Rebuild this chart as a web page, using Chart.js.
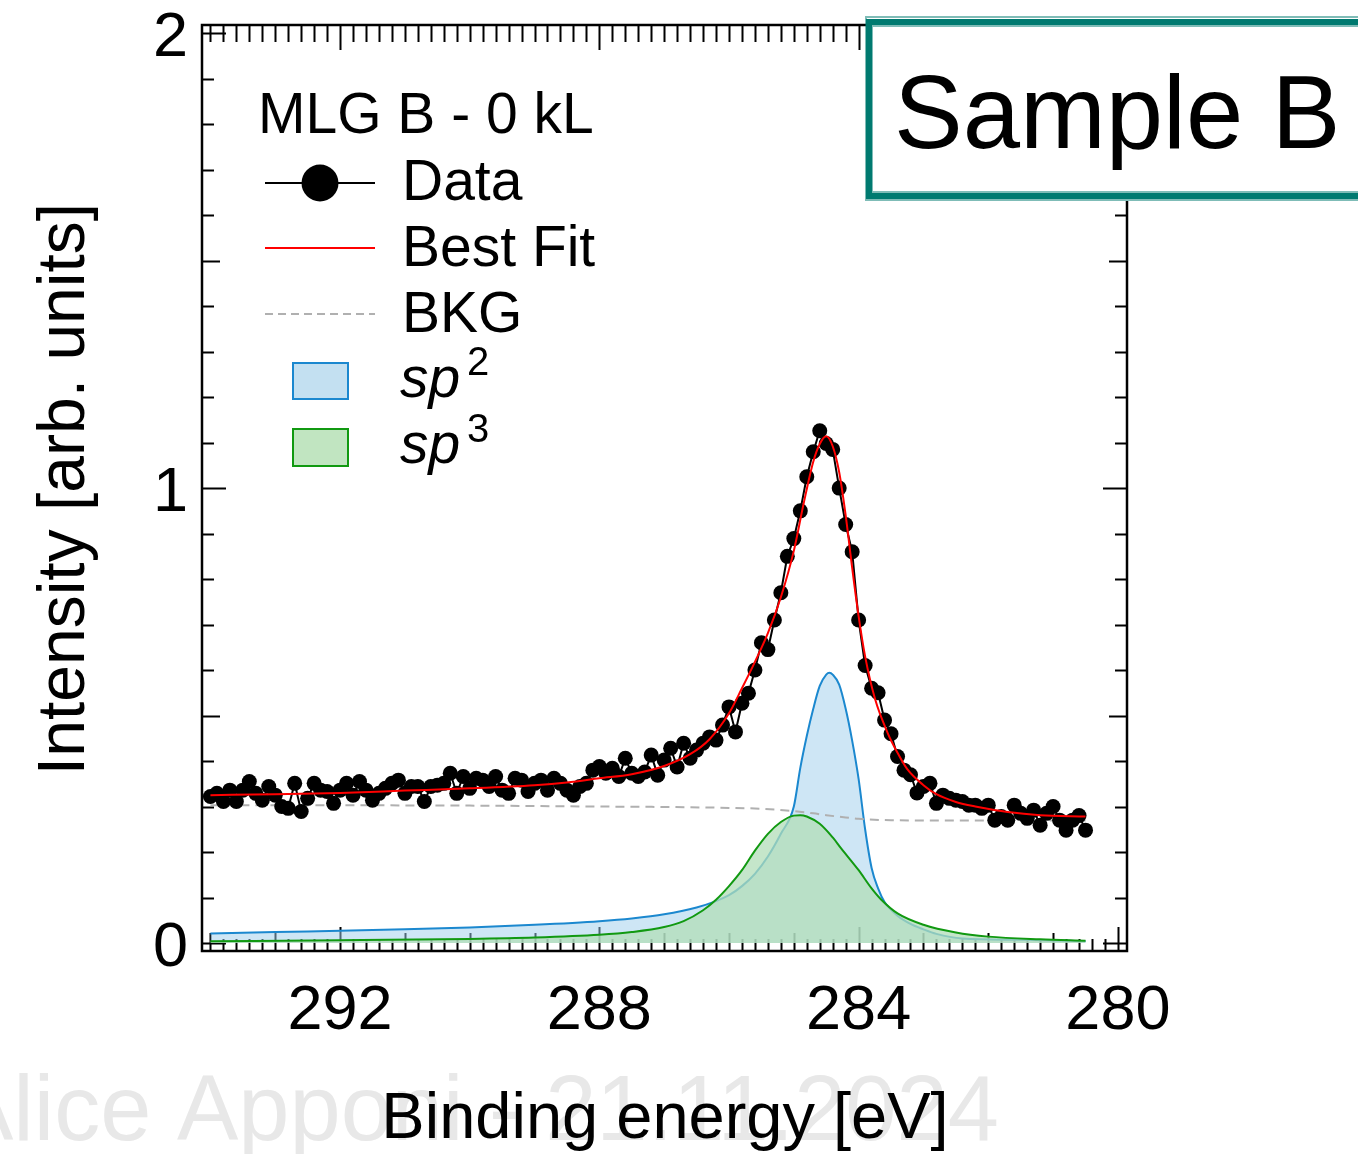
<!DOCTYPE html>
<html>
<head>
<meta charset="utf-8">
<script src="https://cdn.jsdelivr.net/npm/chart.js@4.4.0/dist/chart.umd.min.js"></script>
<style>
  html, body { margin: 0; padding: 0; background: #fff; }
  #wrap { width: 1358px; height: 1154px; }
</style>
</head>
<body>
<div id="wrap"><canvas id="xps" width="1358" height="1154"></canvas></div>
<script>
// C 1s spectrum, MLG B - 0 kL

// measured points (binding energy in eV)
const energy = [
  294.0,293.9,293.8,293.7,293.6,293.5,293.4,293.3,293.2,293.1,
  293.0,292.9,292.8,292.7,292.6,292.5,292.4,292.3,292.2,292.1,
  292.0,291.9,291.8,291.7,291.6,291.5,291.4,291.3,291.2,291.1,
  291.0,290.9,290.8,290.7,290.6,290.5,290.4,290.3,290.2,290.1,
  290.0,289.9,289.8,289.7,289.6,289.5,289.4,289.3,289.2,289.1,
  289.0,288.9,288.8,288.7,288.6,288.5,288.4,288.3,288.2,288.1,
  288.0,287.9,287.8,287.7,287.6,287.5,287.4,287.3,287.2,287.1,
  287.0,286.9,286.8,286.7,286.6,286.5,286.4,286.3,286.2,286.1,
  286.0,285.9,285.8,285.7,285.6,285.5,285.4,285.3,285.2,285.1,
  285.0,284.9,284.8,284.7,284.6,284.5,284.4,284.3,284.2,284.1,
  284.0,283.9,283.8,283.7,283.6,283.5,283.4,283.3,283.2,283.1,
  283.0,282.9,282.8,282.7,282.6,282.5,282.4,282.3,282.2,282.1,
  282.0,281.9,281.8,281.7,281.6,281.5,281.4,281.3,281.2,281.1,
  281.0,280.9,280.8,280.7,280.6,280.5
];
const intensity = [
  0.322,0.329,0.311,0.336,0.311,0.336,0.355,0.329,0.314,0.344,
  0.325,0.300,0.296,0.351,0.289,0.318,0.351,0.336,0.333,0.307,
  0.336,0.351,0.325,0.355,0.336,0.314,0.329,0.340,0.351,0.358,
  0.329,0.344,0.344,0.311,0.344,0.347,0.351,0.373,0.329,0.366,
  0.340,0.362,0.358,0.344,0.366,0.336,0.329,0.362,0.358,0.333,
  0.351,0.358,0.336,0.362,0.351,0.336,0.325,0.344,0.351,0.380,
  0.388,0.373,0.384,0.366,0.406,0.373,0.366,0.376,0.413,0.369,
  0.402,0.428,0.387,0.439,0.406,0.424,0.439,0.453,0.446,0.479,
  0.519,0.464,0.527,0.549,0.600,0.660,0.645,0.710,0.770,0.850,
  0.889,0.950,1.025,1.080,1.126,1.098,1.085,1.000,0.920,0.860,
  0.710,0.610,0.560,0.550,0.490,0.460,0.410,0.380,0.370,0.330,
  0.344,0.351,0.307,0.325,0.318,0.314,0.311,0.303,0.303,0.296,
  0.303,0.270,0.278,0.270,0.303,0.285,0.274,0.292,0.259,0.285,
  0.300,0.270,0.248,0.270,0.280,0.248
];

// best fit envelope
const fitE = [294.0,293.0,292.0,291.0,290.0,289.0,288.5,288.0,287.5,287.0,286.6,286.3,286.0,285.8,285.6,285.4,285.2,285.0,284.85,284.7,284.6,284.5,284.4,284.3,284.2,284.1,284.0,283.9,283.75,283.55,283.4,283.25,283.0,282.8,282.5,282.2,281.7,281.2,280.5];
const fitI = [0.325,0.327,0.330,0.335,0.340,0.347,0.353,0.362,0.371,0.389,0.415,0.448,0.505,0.560,0.618,0.681,0.760,0.862,0.965,1.058,1.097,1.114,1.092,1.035,0.940,0.825,0.718,0.630,0.538,0.461,0.418,0.382,0.347,0.327,0.310,0.300,0.288,0.281,0.278];

// Shirley background
const bkgE = [294.0,290.0,288.0,287.0,286.0,285.5,285.0,284.7,284.5,284.2,284.0,283.5,282.0,280.5];
const bkgI = [0.303,0.302,0.300,0.299,0.297,0.295,0.290,0.285,0.281,0.276,0.273,0.270,0.269,0.269];

// sp2 component
const sp2E = [294.0,293.0,292.0,291.0,290.0,289.0,288.0,287.5,287.0,286.5,286.2,286.0,285.8,285.6,285.4,285.2,285.0,284.9,284.8,284.7,284.6,284.5,284.45,284.4,284.3,284.2,284.1,284.0,283.9,283.8,283.7,283.6,283.4,283.2,283.0,282.8,282.4,281.5,280.5];
const sp2I = [0.021,0.024,0.027,0.030,0.034,0.040,0.048,0.054,0.063,0.078,0.092,0.105,0.125,0.152,0.190,0.240,0.300,0.385,0.455,0.515,0.565,0.590,0.594,0.590,0.568,0.515,0.445,0.360,0.250,0.165,0.120,0.090,0.060,0.042,0.030,0.020,0.010,0.007,0.004];

// sp3 component
const sp3E = [294.0,292.0,290.0,289.0,288.0,287.5,287.0,286.7,286.4,286.2,286.0,285.8,285.6,285.4,285.2,285.0,284.9,284.8,284.6,284.4,284.27,284.0,283.8,283.65,283.4,283.0,282.5,282.0,281.2,280.5];
const sp3I = [0.004,0.006,0.009,0.012,0.018,0.024,0.035,0.048,0.072,0.095,0.125,0.160,0.203,0.240,0.266,0.280,0.281,0.278,0.262,0.232,0.208,0.160,0.120,0.095,0.065,0.040,0.023,0.014,0.008,0.005];

const xTickLabels = [292, 288, 284, 280];
const yTickLabels = [0, 1, 2];

const FONT = '"Liberation Sans", Arial, sans-serif';
const TEAL = '#007a70';

const pts = (xs, ys) => xs.map((x, i) => ({ x, y: ys[i] }));

function drawTicks(chart) {
  const { ctx, chartArea: a, scales: { x, y } } = chart;
  ctx.save();
  ctx.strokeStyle = '#000';
  ctx.lineWidth = 2;
  ctx.beginPath();
  // energy ticks every 0.2 eV, bottom and top
  for (let i = 0; i <= 70; i++) {
    const v = 280 + i * 0.2;
    const px = Math.round(x.getPixelForValue(v)) + 0.5;
    if (px < a.left || px > a.right) continue;
    const whole = i % 5 === 0;
    const major = i % 20 === 0;
    const lb = major ? 24 : whole ? 18 : 12;
    const lt = major ? 25 : 17;
    ctx.moveTo(px, a.bottom); ctx.lineTo(px, a.bottom - lb);
    ctx.moveTo(px, a.top); ctx.lineTo(px, a.top + lt);
  }
  // intensity ticks every 0.1, left and right
  for (let i = 0; i <= 20; i++) {
    const v = i / 10;
    const py = Math.round(y.getPixelForValue(v)) + 0.5;
    const len = i % 10 === 0 ? 24 : i % 5 === 0 ? 18 : 12;
    ctx.moveTo(a.left, py); ctx.lineTo(a.left + len, py);
    ctx.moveTo(a.right, py); ctx.lineTo(a.right - len, py);
  }
  ctx.stroke();
  ctx.restore();
}

function drawFrameAndText(chart) {
  const { ctx, chartArea: a, scales: { x, y } } = chart;
  ctx.save();

  // frame
  ctx.strokeStyle = '#000';
  ctx.lineWidth = 2.5;
  ctx.strokeRect(a.left, a.top, a.right - a.left, a.bottom - a.top);

  // tick labels
  ctx.fillStyle = '#000';
  ctx.font = '63px ' + FONT;
  ctx.textAlign = 'center';
  ctx.textBaseline = 'alphabetic';
  xTickLabels.forEach(v => ctx.fillText(String(v), x.getPixelForValue(v), 1029));
  ctx.textAlign = 'right';
  yTickLabels.forEach(v => ctx.fillText(String(v), 188, y.getPixelForValue(v) + 23));

  // watermark
  ctx.textAlign = 'left';
  ctx.font = '92px ' + FONT;
  ctx.fillStyle = '#e8e8e8';
  ctx.fillText('Alice Apponi - 21.11.2024', -48, 1140);

  // axis titles
  ctx.fillStyle = '#000';
  ctx.font = '65px ' + FONT;
  ctx.textAlign = 'center';
  ctx.fillText('Binding energy [eV]', 665, 1138);
  ctx.save();
  ctx.translate(84, 489);
  ctx.rotate(-Math.PI / 2);
  ctx.font = '66px ' + FONT;
  ctx.fillText('Intensity [arb. units]', 0, 0);
  ctx.restore();

  // legend
  ctx.textAlign = 'left';
  ctx.font = '57px ' + FONT;
  ctx.fillText('MLG B - 0 kL', 258, 133);

  ctx.strokeStyle = '#000';
  ctx.lineWidth = 2;
  ctx.beginPath(); ctx.moveTo(265, 183); ctx.lineTo(375, 183); ctx.stroke();
  ctx.beginPath(); ctx.arc(320, 183, 18.5, 0, Math.PI * 2); ctx.fill();
  ctx.fillText('Data', 402, 200);

  ctx.strokeStyle = '#ff0000';
  ctx.beginPath(); ctx.moveTo(265, 248); ctx.lineTo(375, 248); ctx.stroke();
  ctx.fillText('Best Fit', 402, 266);

  ctx.strokeStyle = '#b0b0b0';
  ctx.setLineDash([8, 5]);
  ctx.beginPath(); ctx.moveTo(265, 314); ctx.lineTo(375, 314); ctx.stroke();
  ctx.setLineDash([]);
  ctx.fillText('BKG', 402, 332);

  ctx.fillStyle = '#c3e0f1';
  ctx.fillRect(293, 363, 55, 36);
  ctx.strokeStyle = '#1b88cf';
  ctx.strokeRect(293, 363, 55, 36);
  ctx.fillStyle = '#c1e5c1';
  ctx.fillRect(293, 429, 55, 37);
  ctx.strokeStyle = '#119911';
  ctx.strokeRect(293, 429, 55, 37);

  ctx.fillStyle = '#000';
  ctx.font = 'italic 57px ' + FONT;
  ctx.fillText('sp', 400, 397);
  ctx.fillText('sp', 400, 463);
  ctx.font = '40px ' + FONT;
  ctx.fillText('2', 467, 375);
  ctx.fillText('3', 467, 442);

  // "Sample B" box
  ctx.fillStyle = '#fff';
  ctx.fillRect(866, 15, 500, 186);
  ctx.strokeStyle = TEAL;
  ctx.lineWidth = 6;
  ctx.strokeRect(869, 22, 500, 174);
  ctx.globalAlpha = 0.5;
  ctx.lineWidth = 2;
  ctx.strokeRect(866, 17, 506, 183);
  ctx.strokeRect(872, 26, 500, 166);
  ctx.globalAlpha = 1;
  ctx.fillStyle = '#000';
  ctx.font = '103px ' + FONT;
  ctx.fillText('Sample B', 894, 148);

  ctx.restore();
}

const axesPlugin = {
  id: 'rootAxes',
  beforeDatasetsDraw: drawTicks,
  afterDraw: drawFrameAndText,
};

new Chart(document.getElementById('xps'), {
  type: 'line',
  data: {
    datasets: [
      {
        label: 'Best Fit',
        data: pts(fitE, fitI),
        borderColor: '#ff0000',
        borderWidth: 2,
        pointRadius: 0,
        cubicInterpolationMode: 'monotone',
        fill: false,
      },
      {
        label: 'Data',
        data: pts(energy, intensity),
        borderColor: '#000',
        borderWidth: 2,
        pointRadius: 7.5,
        pointBackgroundColor: '#000',
        pointBorderWidth: 0,
        fill: false,
      },
      {
        label: 'BKG',
        data: pts(bkgE, bkgI),
        borderColor: '#b0b0b0',
        borderWidth: 2,
        borderDash: [9, 6],
        pointRadius: 0,
        cubicInterpolationMode: 'monotone',
        fill: false,
      },
      {
        label: 'sp3',
        data: pts(sp3E, sp3I),
        borderColor: '#119911',
        borderWidth: 2,
        backgroundColor: 'rgba(178,222,184,0.75)',
        pointRadius: 0,
        cubicInterpolationMode: 'monotone',
        fill: 'origin',
      },
      {
        label: 'sp2',
        data: pts(sp2E, sp2I),
        borderColor: '#1b88cf',
        borderWidth: 2,
        backgroundColor: 'rgba(158,206,236,0.5)',
        pointRadius: 0,
        cubicInterpolationMode: 'monotone',
        fill: 'origin',
      },
    ],
  },
  options: {
    responsive: false,
    animation: false,
    devicePixelRatio: 1,
    layout: { padding: { left: 202, top: 25, right: 231, bottom: 203 } },
    plugins: { legend: { display: false }, tooltip: { enabled: false } },
    scales: {
      x: { type: 'linear', reverse: true, min: 279.86, max: 294.13, display: false },
      y: { min: -0.0176, max: 2.018, display: false },
    },
  },
  plugins: [axesPlugin],
});
</script>
</body>
</html>
